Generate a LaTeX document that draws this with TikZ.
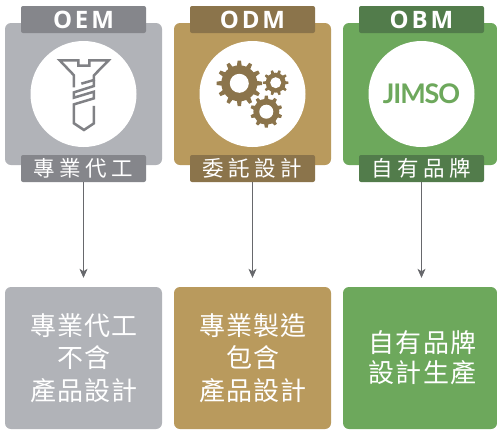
\documentclass[tikz,border=0pt]{standalone}
\usepackage{fontspec}
\usetikzlibrary{arrows.meta}
\newfontfamily\cjklabel[LetterSpace=21]{Noto Sans CJK TC}
\newfontfamily\cjkbody[LetterSpace=4]{Noto Sans CJK TC}
\newfontfamily\head[LetterSpace=12]{Open Sans}
\newfontfamily\logo[LetterSpace=-4]{Lato}
\definecolor{grayC}{HTML}{B1B3B8}
\definecolor{grayL}{HTML}{85868B}
\definecolor{goldC}{HTML}{B99A5D}
\definecolor{goldL}{HTML}{8B744B}
\definecolor{greenC}{HTML}{6DA85C}
\definecolor{greenL}{HTML}{527C4B}
\definecolor{icongray}{HTML}{808185}
\definecolor{linegray}{HTML}{67686C}
% centre x, centre y, outer r, root r, hole r, teeth, phase
\newcommand{\mygear}[7]{%
  \fill[goldL] (#1,#2) circle[radius=#4];
  \pgfmathsetmacro{\gstep}{360/#6}
  \pgfmathsetmacro{\gw}{0.42*#4*6.283/#6}
  \foreach \t in {1,...,#6} {
    \fill[goldL,shift={(#1,#2)},rotate=#7+\t*\gstep]
      (#4-1,-\gw*0.62) -- (#3,-\gw*0.42) -- (#3,\gw*0.42) -- (#4-1,\gw*0.62) -- cycle;
  }
  \fill[white] (#1,#2) circle[radius=#5];
}
\tikzset{
  x=1pt,y=-1pt,
  card/.style={fill=#1,rounded corners=6pt,inner sep=0pt,text=white,align=center},
  tab/.style={fill=#1,rounded corners=2pt,inner sep=0pt,minimum width=125pt,minimum height=27pt,text=white},
  disc/.style={circle,fill=white,inner sep=0pt,minimum size=106pt},
  flow/.style={draw=linegray,line width=.7pt,-{Stealth[length=9pt,width=8pt,inset=2.5pt]},shorten >=9pt},
  bodytext/.style={font=\cjkbody\fontsize{26}{32.5}\selectfont},
  bodytextb/.style={font=\cjkbody\fontsize{26}{30}\selectfont},
  headtext/.style={font=\head\bfseries\fontsize{24}{26}\selectfont},
  labeltext/.style={font=\cjklabel\fontsize{21.5}{24}\selectfont},
  screw/.style={draw=icongray,line width=2.5pt,line join=miter,fill=none}
}
\begin{document}
\begin{tikzpicture}
\useasboundingbox (0,0) rectangle (497,429);
\fill[white] (0,0) rectangle (497,429);
% top cards
\node[card=grayC,minimum width=157pt,minimum height=142pt] (c1) at (83.5,94) {};
\node[card=goldC,minimum width=157pt,minimum height=142pt] (c2) at (252.5,94) {};
\node[card=greenC,minimum width=154pt,minimum height=142pt] (c3) at (420,94) {};
\node[disc] (d1) at (83.5,94) {};
\node[disc] (d2) at (252.5,94) {};
\node[disc] (d3) at (421.5,94) {};
% tabs
\node[tab=grayL,headtext] (t1) at (83.5,19.5) {OEM};
\node[tab=goldL,headtext] (t2) at (252.5,19.5) {ODM};
\node[tab=greenL,headtext] (t3) at (421.5,19.5) {OBM};
\node[tab=grayL,labeltext] (l1) at (83.5,168.5) {專業代工};
\node[tab=goldL,labeltext] (l2) at (252.5,168.5) {委託設計};
\node[tab=greenL,labeltext] (l3) at (421.5,168.5) {自有品牌};
% screw
\begin{scope}[shift={(50,50)},x=.3333pt,y=-.3333pt]
\draw[screw] (72,112) -- (72,76) -- (29,31) -- (85,31) -- (85,47) -- (118,47) -- (118,31) -- (176,31) -- (132,76) -- (132,90) -- (94,101);
\draw[screw] (132,90) -- (132,108) -- (72,127) -- (72,143) -- (132,125) -- (132,145) -- (72,163) -- (72,220) -- (102,240) -- (132,220) -- (132,168);
\end{scope}
% gears
\mygear{239.3}{83.3}{22.7}{18}{9.5}{12}{0}
\mygear{275.7}{82.7}{12.7}{10}{5.5}{10}{0}
\mygear{266.3}{111.7}{16}{13}{7}{10}{18}
% logo
\node[text=greenC,inner sep=0pt,font=\logo\bfseries\fontsize{27}{28}\selectfont] (j) at (421.5,94) {JIMSO};
% bottom cards
\node[card=grayC,minimum width=157pt,minimum height=142pt,bodytext] (b1) at (83.5,358) {\hspace*{1pt}專業代工\\\hspace*{1pt}不含\\\hspace*{1pt}產品設計};
\node[card=goldC,minimum width=157pt,minimum height=142pt,bodytext] (b2) at (252.5,358) {\hspace*{1pt}專業製造\\\hspace*{1pt}包含\\\hspace*{1pt}產品設計};
\node[card=greenC,minimum width=154pt,minimum height=142pt,bodytextb] (b3) at (420,358) {\hspace*{5pt}自有品牌\\\hspace*{5pt}設計生產};
% connectors
\draw[flow] (l1.south) -- (b1.north);
\draw[flow] (l2.south) -- (b2.north);
\draw[flow] (l3.south) -- (l3.south |- b3.north);
\end{tikzpicture}
\end{document}
